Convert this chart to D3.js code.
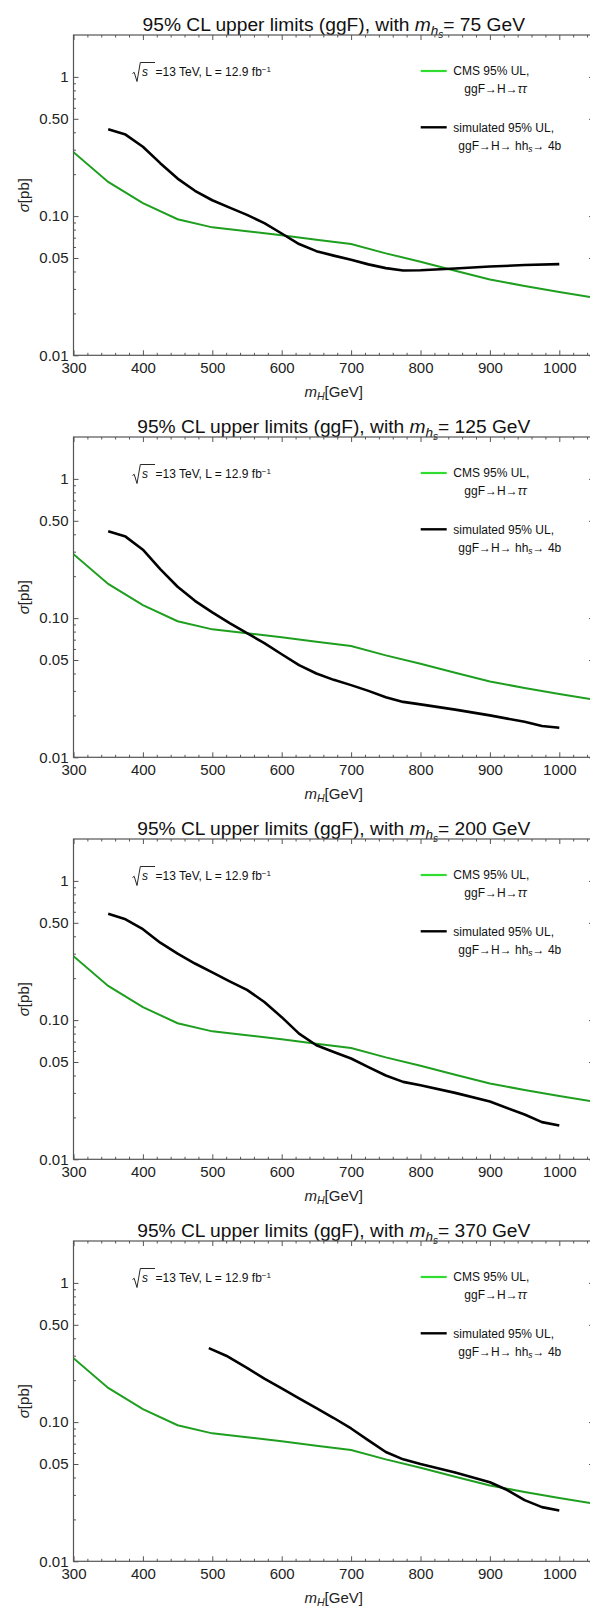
<!DOCTYPE html>
<html>
<head>
<meta charset="utf-8">
<script src="https://cdn.jsdelivr.net/npm/d3@7"></script>
<style>
  html, body { margin: 0; padding: 0; background: #fff; }
  svg { display: block; font-family: "Liberation Sans", Arial, Helvetica, sans-serif; }
</style>
</head>
<body>
<div id="chart"></div>
<script>
// ---------------- data ----------------
const panelMhs = [75, 125, 200, 370];

// CMS 95% UL (ggF -> H -> tau tau), identical in all panels
const cmsMass  = [300, 350, 400, 450, 500, 550, 600, 650, 700, 750, 800, 850, 900, 950, 1000, 1050];
const cmsLimit = [0.288, 0.176, 0.124, 0.095, 0.083, 0.0778, 0.0728, 0.0677, 0.063, 0.054, 0.047, 0.0405, 0.035, 0.0315, 0.0285, 0.026];

// simulated 95% UL, ggF -> H -> h h_s -> 4b
const sim75Mass  = [350, 375, 400, 425, 450, 475, 500, 525, 550, 575, 600, 625, 650, 675, 700, 725, 750, 775, 800, 850, 900, 950, 1000];
const sim75Limit = [0.42, 0.385, 0.315, 0.24, 0.186, 0.152, 0.130, 0.115, 0.102, 0.089, 0.075, 0.063, 0.056, 0.052, 0.0485, 0.045, 0.0423, 0.0407, 0.0408, 0.042, 0.0434, 0.0445, 0.0452];

const sim125Mass  = [350, 375, 400, 425, 450, 475, 500, 525, 550, 575, 600, 625, 650, 675, 700, 725, 750, 775, 800, 850, 900, 950, 975, 1000];
const sim125Limit = [0.42, 0.385, 0.31, 0.225, 0.168, 0.133, 0.110, 0.092, 0.078, 0.066, 0.055, 0.046, 0.040, 0.036, 0.033, 0.030, 0.027, 0.025, 0.024, 0.022, 0.020, 0.018, 0.0168, 0.0163];

const sim200Mass  = [350, 375, 400, 425, 450, 475, 500, 525, 550, 575, 600, 625, 650, 675, 700, 725, 750, 775, 800, 850, 900, 950, 975, 1000];
const sim200Limit = [0.58, 0.53, 0.45, 0.36, 0.30, 0.255, 0.22, 0.19, 0.165, 0.135, 0.105, 0.080, 0.066, 0.059, 0.053, 0.046, 0.040, 0.036, 0.034, 0.030, 0.026, 0.021, 0.0185, 0.0175];

const sim370Mass  = [495, 520, 550, 575, 600, 625, 650, 675, 700, 725, 750, 775, 800, 850, 900, 925, 950, 975, 1000];
const sim370Limit = [0.34, 0.30, 0.245, 0.205, 0.175, 0.148, 0.126, 0.107, 0.090, 0.074, 0.061, 0.054, 0.050, 0.0435, 0.037, 0.0325, 0.0275, 0.0245, 0.0232];

const simMass  = [sim75Mass, sim125Mass, sim200Mass, sim370Mass];
const simLimit = [sim75Limit, sim125Limit, sim200Limit, sim370Limit];

// tick values
const xMajor = [300, 400, 500, 600, 700, 800, 900, 1000];
const xMinor = d3.range(300, 1051, 20).filter(v => v % 100 !== 0);
const yMajor = [0.01, 0.05, 0.1, 0.5, 1];
const yMajorLabels = ["0.01", "0.05", "0.10", "0.50", "1"];
const yMinor = [0.02, 0.03, 0.04, 0.06, 0.07, 0.08, 0.09, 0.2, 0.3, 0.4, 0.6, 0.7, 0.8, 0.9];

// ---------------- layout ----------------
const W = 590, H = 1607;
const panelH = 402;
const pLeft = 73.5, pRight = 594, pTop = 35, pBottom = 355.3;

const svg = d3.select("#chart").append("svg")
  .attr("width", W).attr("height", H).attr("viewBox", `0 0 ${W} ${H}`);

const x = d3.scaleLinear().domain([300, 1050]).range([pLeft, pRight]);
const y = d3.scaleLog().domain([0.01, 2]).range([pBottom, pTop]);

const frameColor = "#555";
const cmsColor = "#1f9f1f";
const cmsLegendColor = "#2fdc2f";

svg.append("defs").append("clipPath").attr("id", "clip")
  .append("rect").attr("x", pLeft).attr("y", pTop).attr("width", pRight - pLeft).attr("height", pBottom - pTop);

function styleAxis(g) {
  g.select(".domain").remove();
  g.selectAll(".tick line").attr("stroke", frameColor).attr("stroke-width", 1);
  g.selectAll(".tick text").attr("fill", "#222").attr("font-size", 15);
}

panelMhs.forEach((mhs, i) => {
  const g = svg.append("g").attr("transform", `translate(0,${i * panelH})`);

  // title
  const t = g.append("text").attr("x", (pLeft + pRight) / 2).attr("y", 31)
    .attr("text-anchor", "middle").attr("font-size", 19.2).attr("fill", "#111");
  t.append("tspan").text("95% CL upper limits (ggF), with ");
  t.append("tspan").attr("font-style", "italic").text("m");
  t.append("tspan").attr("font-style", "italic").attr("font-size", 13.5).attr("dy", 4).text("h");
  t.append("tspan").attr("font-style", "italic").attr("font-size", 10).attr("dy", 3).text("s");
  t.append("tspan").attr("dy", -7).text("= " + mhs + " GeV");

  // axes (inward ticks)
  const gxB = g.append("g").attr("transform", `translate(0,${pBottom})`)
    .call(d3.axisBottom(x).tickValues(xMajor).tickSize(-5).tickPadding(7.5).tickFormat(d3.format("d")));
  styleAxis(gxB);
  const gxBm = g.append("g").attr("transform", `translate(0,${pBottom})`)
    .call(d3.axisBottom(x).tickValues(xMinor).tickSize(-2.5).tickFormat(""));
  styleAxis(gxBm);
  const gxT = g.append("g").attr("transform", `translate(0,${pTop})`)
    .call(d3.axisTop(x).tickValues(xMajor).tickSize(-5).tickFormat(""));
  styleAxis(gxT);
  const gxTm = g.append("g").attr("transform", `translate(0,${pTop})`)
    .call(d3.axisTop(x).tickValues(xMinor).tickSize(-2.5).tickFormat(""));
  styleAxis(gxTm);

  const gyL = g.append("g").attr("transform", `translate(${pLeft},0)`)
    .call(d3.axisLeft(y).tickValues(yMajor).tickSize(-5).tickPadding(5)
      .tickFormat((d, k) => yMajorLabels[k]));
  styleAxis(gyL);
  const gyLm = g.append("g").attr("transform", `translate(${pLeft},0)`)
    .call(d3.axisLeft(y).tickValues(yMinor).tickSize(-2.5).tickFormat(""));
  styleAxis(gyLm);
  const gyR = g.append("g").attr("transform", `translate(${pRight},0)`)
    .call(d3.axisRight(y).tickValues(yMajor).tickSize(-5).tickFormat(""));
  styleAxis(gyR);
  const gyRm = g.append("g").attr("transform", `translate(${pRight},0)`)
    .call(d3.axisRight(y).tickValues(yMinor).tickSize(-2.5).tickFormat(""));
  styleAxis(gyRm);

  // frame
  g.append("rect").attr("x", pLeft).attr("y", pTop).attr("width", pRight - pLeft).attr("height", pBottom - pTop)
    .attr("fill", "none").attr("stroke", frameColor).attr("stroke-width", 1.2);

  // axis labels
  const yl = g.append("text").attr("transform", `translate(28.5,${(pTop + pBottom) / 2}) rotate(-90)`)
    .attr("text-anchor", "middle").attr("font-size", 15).attr("fill", "#222");
  yl.append("tspan").attr("font-style", "italic").text("σ");
  yl.append("tspan").text("[pb]");

  const xl = g.append("text").attr("x", (pLeft + pRight) / 2).attr("y", 397)
    .attr("text-anchor", "middle").attr("font-size", 15).attr("fill", "#222");
  xl.append("tspan").attr("font-style", "italic").text("m");
  xl.append("tspan").attr("font-style", "italic").attr("font-size", 10.5).attr("dy", 3).text("H");
  xl.append("tspan").attr("dy", -3).text("[GeV]");

  // lines
  const line = d3.line().x(d => x(d[0])).y(d => y(d[1]));
  g.append("path").attr("clip-path", "url(#clip)")
    .datum(d3.zip(cmsMass, cmsLimit))
    .attr("d", line).attr("fill", "none").attr("stroke", cmsColor).attr("stroke-width", 2);
  g.append("path").attr("clip-path", "url(#clip)")
    .datum(d3.zip(simMass[i], simLimit[i]))
    .attr("d", line).attr("fill", "none").attr("stroke", "#000").attr("stroke-width", 2.6)
    .attr("stroke-linejoin", "round");

  // sqrt(s) annotation
  g.append("path").attr("d", "M132.5,73.5 L134.2,72.3 L137,81.5 L140.3,62.5 L155,62.5")
    .attr("fill", "none").attr("stroke", "#111").attr("stroke-width", 0.9);
  const an = g.append("text").attr("x", 142).attr("y", 76).attr("font-size", 12).attr("fill", "#111");
  an.append("tspan").attr("font-style", "italic").text("s");
  an.append("tspan").attr("x", 155.5).text("=13 TeV, L = 12.9 fb");
  an.append("tspan").attr("font-size", 8).attr("dy", -4.5).text("−1");

  // legend
  g.append("line").attr("x1", 420.7).attr("x2", 446.7).attr("y1", 71).attr("y2", 71)
    .attr("stroke", cmsLegendColor).attr("stroke-width", 2.2);
  g.append("text").attr("x", 453.3).attr("y", 75.3).attr("font-size", 12).attr("fill", "#111").text("CMS 95% UL,");
  const l2 = g.append("text").attr("x", 464.3).attr("y", 93).attr("font-size", 12).attr("fill", "#111");
  l2.append("tspan").text("ggF→H→");
  l2.append("tspan").attr("font-style", "italic").text("ττ");

  g.append("line").attr("x1", 420.7).attr("x2", 446.7).attr("y1", 127.3).attr("y2", 127.3)
    .attr("stroke", "#000").attr("stroke-width", 2.4);
  g.append("text").attr("x", 453.3).attr("y", 131.5).attr("font-size", 12).attr("fill", "#111").text("simulated 95% UL,");
  const l4 = g.append("text").attr("x", 458.3).attr("y", 149.5).attr("font-size", 12).attr("fill", "#111");
  l4.append("tspan").text("ggF→H→ hh");
  l4.append("tspan").attr("font-style", "italic").attr("font-size", 8.5).attr("dy", 2.5).text("s");
  l4.append("tspan").attr("dy", -2.5).text("→ 4b");
});
</script>
</body>
</html>
